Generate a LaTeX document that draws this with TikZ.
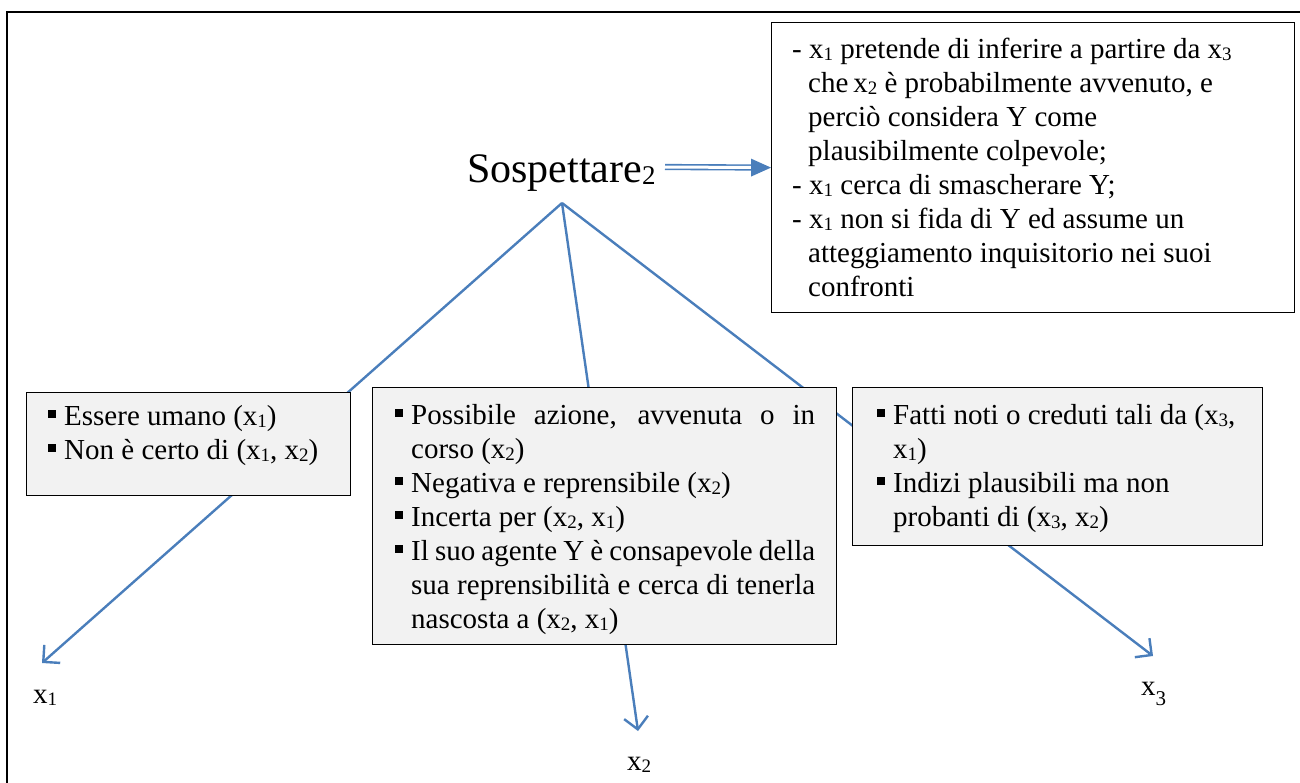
\documentclass[tikz,border=0pt]{standalone}
\usepackage{fontspec}
\setmainfont{Liberation Serif}
\usetikzlibrary{arrows.meta,calc}
\definecolor{lblue}{RGB}{74,126,187}
\definecolor{boxgray}{RGB}{242,242,242}
\newcommand{\sbs}[1]{\raisebox{-2pt}{\fontsize{19}{19}\selectfont #1}}
\newcommand{\bul}{\makebox[16pt][l]{\rule[7.5pt]{8pt}{8pt}}}
\newcommand{\ind}{\hspace*{16pt}}
\newcommand{\dsh}{\makebox[17pt][l]{-}}
\begin{document}
\begin{tikzpicture}[x=1pt,y=-1pt,
  frame/.style={draw=black, line width=1.6pt},
  greybox/.style={draw=black, line width=1.2pt, fill=boxgray, inner sep=0pt, anchor=north west},
  whitebox/.style={draw=black, line width=1.2pt, fill=white, inner sep=0pt, anchor=north west},
  txt/.style={anchor=base west, inner sep=0pt, font=\fontsize{29}{34}\selectfont},
  branch/.style={draw=lblue, line width=2.4pt, -{Straight Barb[length=12pt,width=24pt]}},
]
\useasboundingbox (0,0) rectangle (1300,782);
\draw[frame] (7,790) -- (7,12) -- (1310,12);

% title
\node[anchor=base west, inner sep=0pt] (sosp) at (467,182)
  {\fontsize{42}{50}\selectfont Sospettare\raisebox{-2pt}{\fontsize{27}{27}\selectfont 2}};
\coordinate (apex) at (562,203);
\coordinate (dstart) at (665,167);
\coordinate (e1) at (42,663);
\coordinate (e2) at (638,731);
\coordinate (e3) at (1153,656);

% branches (behind boxes)
\draw[branch] (apex) -- (e1);
\draw[branch] (apex) -- (e2);
\draw[branch] (apex) -- (e3);

% definition box
\node[whitebox, minimum width=523pt, minimum height=290pt] (def) at (771,22) {};
\node[txt] (deftxt) at (792,58) {\parbox[t]{490pt}{%
\dsh x\sbs{1} pretende di inferire a partire da x\sbs{3}\\
\ind che\,x\sbs{2} è probabilmente avvenuto, e\\
\ind perciò considera Y come\\
\ind plausibilmente colpevole;\\
\dsh x\sbs{1} cerca di smascherare Y;\\
\dsh x\sbs{1} non si fida di Y ed assume un\\
\ind atteggiamento inquisitorio nei suoi\\
\ind confronti}};

% double arrow
\draw[lblue, double=white, double distance=3pt, line width=1.6pt, shorten >=18pt] (dstart) -- (def.west);
\fill[lblue] (def.west) -- ++(-20,-9) -- ++(0,18) -- cycle;

% box 1
\node[greybox, minimum width=324pt, minimum height=103pt] (b1) at (26,392) {};
\node[txt] (t1) at (48,425) {\parbox[t]{320pt}{%
\bul Essere umano (x\sbs{1})\\
\bul Non è certo di (x\sbs{1}, x\sbs{2})}};

% box 2
\node[greybox, minimum width=464pt, minimum height=257pt] (b2) at (372,387) {};
\node[txt] (t2) at (395,424) {\parbox[t]{430pt}{%
\bul\makebox[404pt][s]{Possibile azione, avvenuta o in}\\
\ind corso (x\sbs{2})\\
\bul Negativa e reprensibile (x\sbs{2})\\
\bul Incerta per (x\sbs{2}, x\sbs{1})\\
\bul\makebox[404pt][s]{Il suo agente Y è consapevole della}\\
\ind\makebox[404pt][s]{sua reprensibilità e cerca di tenerla}\\
\ind nascosta a (x\sbs{2}, x\sbs{1})}};

% box 3
\node[greybox, minimum width=410pt, minimum height=158pt] (b3) at (852,387) {};
\node[txt] (t3) at (877,424) {\parbox[t]{380pt}{%
\bul Fatti noti o creduti tali da (x\sbs{3},\\
\ind x\sbs{1})\\
\bul Indizi plausibili ma non\\
\ind probanti di (x\sbs{3}, x\sbs{2})}};

% end labels
\node[txt] (l1) at (33,703) {x\sbs{1}};
\node[txt] (l2) at (627,770) {x\sbs{2}};
\node[txt] (l3) at (1141,695) {x\raisebox{-10pt}{\fontsize{21}{21}\selectfont 3}};
\end{tikzpicture}
\end{document}
